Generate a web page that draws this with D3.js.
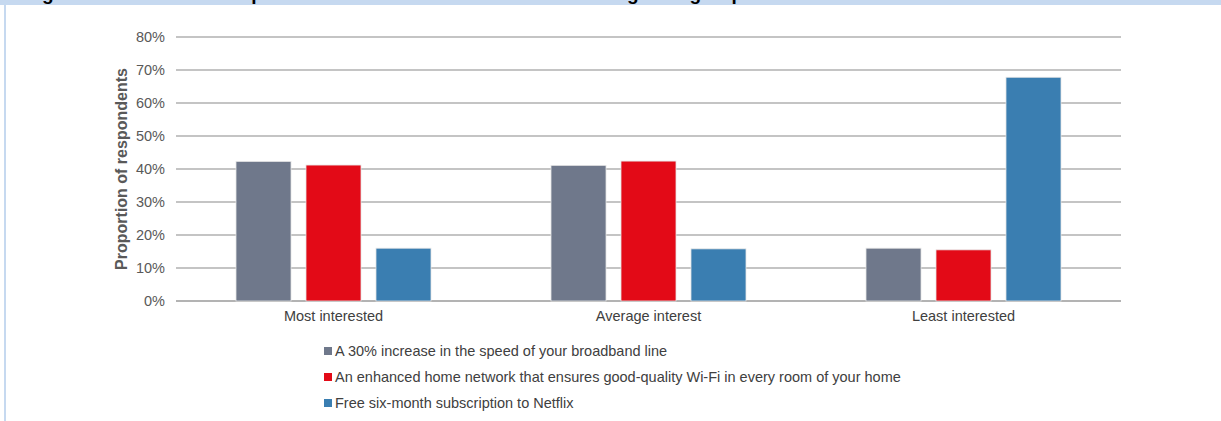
<!DOCTYPE html>
<html>
<head>
<meta charset="utf-8">
<script src="https://cdn.jsdelivr.net/npm/d3@7"></script>
<style>
  body { margin: 0; background: #fff; }
  svg { display: block; font-family: Arial, "Liberation Sans", sans-serif; }
</style>
</head>
<body>
<div class="chart"></div>
<script>
var categories = ["Most interested", "Average interest", "Least interested"];
var seriesNames = [
  "A 30% increase in the speed of your broadband line",
  "An enhanced home network that ensures good-quality Wi-Fi in every room of your home",
  "Free six-month subscription to Netflix"
];
var speedValues = [42.3, 41.1, 16.0];
var wifiValues = [41.2, 42.4, 15.5];
var netflixValues = [16.0, 15.8, 67.8];
var yTicks = [0, 10, 20, 30, 40, 50, 60, 70, 80];
var colors = ["#6f788b", "#e30a17", "#3a7eb1"];

var width = 1221, height = 421;
var series = [speedValues, wifiValues, netflixValues];
var fontStack = "Arial, 'Liberation Sans', sans-serif";

var svg = d3.select(".chart").append("svg").attr("width", width).attr("height", height);

// page frame: title band (title mostly cropped off) and left rule
svg.append("rect").attr("x", 0).attr("y", 0).attr("width", width).attr("height", 5).style("fill", "#c6d9f0");
svg.append("rect").attr("x", 4).attr("y", 5).attr("width", 2).attr("height", height - 5).style("fill", "#c6d9f0");
var clip = svg.append("clipPath").attr("id", "titleclip");
clip.append("rect").attr("x", 0).attr("y", 0).attr("width", width).attr("height", 5);
svg.append("text").attr("x", 25).attr("y", 0).attr("clip-path", "url(#titleclip)")
  .style("font-size", "19px").style("font-weight", "bold").style("fill", "#000")
  .text("Figure 5.10: Consumers' preference for home network offers among user groups");

var x0 = d3.scaleBand().domain(categories).range([176, 1121]).paddingInner(0).paddingOuter(0);
var x1 = d3.scaleBand().domain([0, 1, 2]).range([60, 255]).paddingInner(0.214).paddingOuter(0);
var y = d3.scaleLinear().domain([0, 80]).range([301, 37]);

// gridlines
svg.append("g").selectAll("line").data(yTicks).enter().append("line")
  .attr("x1", 176).attr("x2", 1121)
  .attr("y1", function(d) { return y(d); }).attr("y2", function(d) { return y(d); })
  .style("stroke", function(d) { return d === 0 ? "#b3b3b3" : "#c4c4c4"; })
  .style("stroke-width", 2);

// y axis labels
var yAxis = d3.axisLeft(y).tickValues(yTicks).tickSize(0).tickPadding(0)
  .tickFormat(function(d) { return d + "%"; });
var ya = svg.append("g").attr("transform", "translate(165,0)").call(yAxis);
ya.select(".domain").remove();
ya.selectAll("text").style("font-size", "14.5px").style("fill", "#595959").style("font-family", fontStack);

svg.append("text")
  .attr("transform", "translate(127,169) rotate(-90)")
  .attr("text-anchor", "middle")
  .style("font-size", "16px").style("font-weight", "bold").style("fill", "#595959")
  .text("Proportion of respondents");

// bars
var groups = svg.append("g").selectAll("g").data(categories).enter().append("g")
  .attr("transform", function(d) { return "translate(" + x0(d) + ",0)"; });
groups.selectAll("rect").data(function(d, i) {
    return series.map(function(s, k) { return { k: k, v: s[i] }; });
  }).enter().append("rect")
  .attr("x", function(d) { return x1(d.k); })
  .attr("width", x1.bandwidth())
  .attr("y", function(d) { return y(d.v); })
  .attr("height", function(d) { return y(0) - y(d.v); })
  .style("fill", function(d) { return colors[d.k]; })
  .style("stroke", "#e6e6e6").style("stroke-width", 0.8);

// x axis labels
var xAxis = d3.axisBottom(x0).tickSize(0).tickPadding(0);
var xa = svg.append("g").attr("transform", "translate(0,311)").call(xAxis);
xa.select(".domain").remove();
xa.selectAll("text").style("font-size", "14.5px").style("fill", "#404040").style("font-family", fontStack);

// legend
var legend = svg.append("g").selectAll("g").data(seriesNames).enter().append("g")
  .attr("transform", function(d, i) { return "translate(324," + (351 + i * 26) + ")"; });
legend.append("rect").attr("x", 0).attr("y", -4).attr("width", 8).attr("height", 8)
  .style("fill", function(d, i) { return colors[i]; });
legend.append("text").attr("x", 11).attr("y", 0).attr("dy", "0.35em")
  .style("font-size", "14.5px").style("fill", "#404040")
  .text(function(d) { return d; });
</script>
</body>
</html>
